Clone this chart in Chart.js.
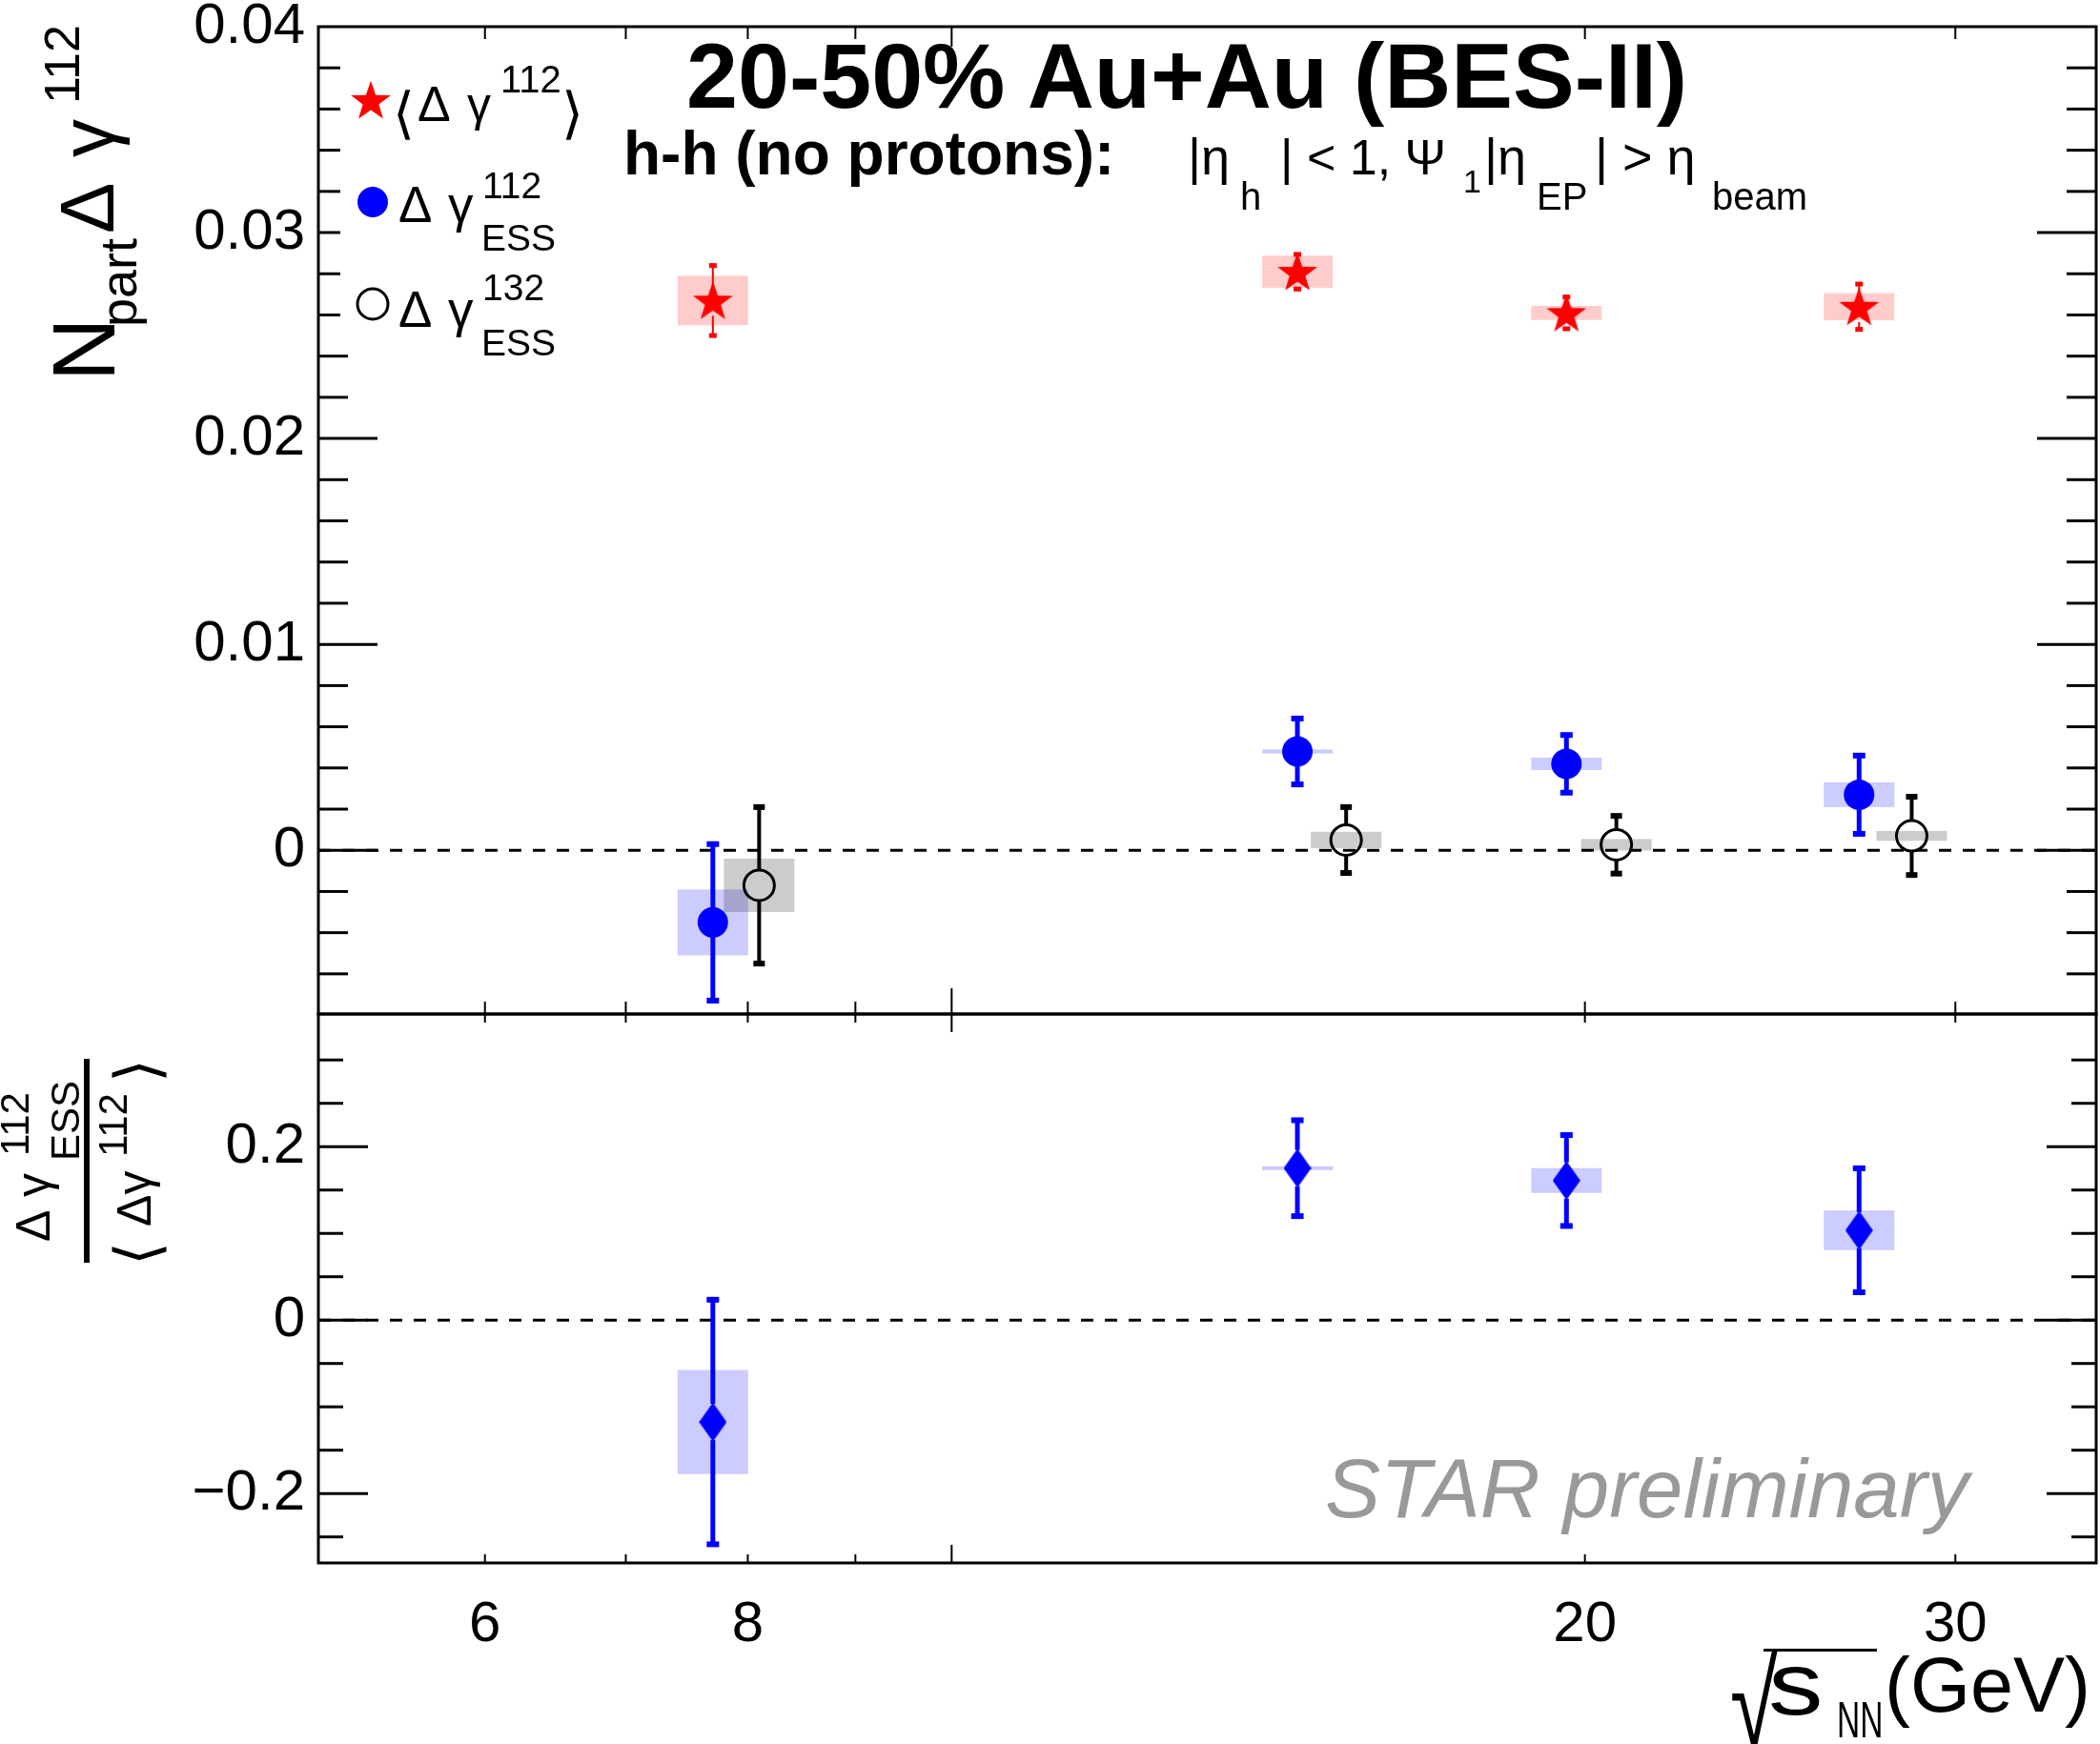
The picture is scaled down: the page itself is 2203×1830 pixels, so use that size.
<!DOCTYPE html>
<html>
<head>
<meta charset="utf-8">
<script src="https://cdn.jsdelivr.net/npm/chart.js@4.4.1/dist/chart.umd.min.js"></script>
<style>
  html, body { margin: 0; padding: 0; background: #fff; }
  #wrap { position: relative; width: 2203px; height: 1830px; overflow: hidden;
          font-family: "Liberation Sans", Arial, sans-serif; color: #000; }
  canvas { position: absolute; left: 0; top: 0; }
  .t { position: absolute; white-space: nowrap; transform-origin: 0 0; }
  .rot { position: absolute; left: 0; top: 0; transform-origin: 0 0; }
</style>
</head>
<body>
<div id="wrap">
  <canvas id="topPanel" width="2203" height="1830"></canvas>
  <canvas id="bottomPanel" width="2203" height="1830"></canvas>
  <div id="texts"></div>
</div>
<script>
// ---- data ----
const energy        = [7.7, 14.6, 19.6, 27];
const energyShifted = [8.1, 15.4, 20.7, 28.6];   // open circles are drawn slightly to the right

const gamma112      = [0.0267, 0.0281, 0.0261, 0.0264];
const gamma112Stat  = [0.0017, 0.00084, 0.00077, 0.0011];
const gamma112Sys   = [0.0012, 0.00078, 0.00034, 0.00066];

const ess112        = [-0.0035, 0.0048, 0.0042, 0.0027];
const ess112Stat    = [0.0038, 0.0016, 0.0014, 0.0019];
const ess112Sys     = [0.0016, 0.0001, 0.0003, 0.0006];

const ess132        = [-0.0017, 0.0005, 0.00027, 0.0007];
const ess132Stat    = [0.0038, 0.0016, 0.0014, 0.0019];
const ess132Sys     = [0.0013, 0.0004, 0.00028, 0.00024];

const ratio         = [-0.1175, 0.1752, 0.161, 0.1036];
const ratioStat     = [0.141, 0.0553, 0.0524, 0.0715];
const ratioSys      = [0.060, 0.0023, 0.0143, 0.0229];

// ---- axes ----
const xMin = 5, xMax = 35;
const xTickValues  = [6, 7, 8, 9, 10, 20, 30];
const xMajorValues = [10];
const xLabelValues = [6, 8, 20, 30];
const xLabelText   = ['6', '8', '20', '30'];

const yTopMin = -0.00795, yTopMax = 0.04;
const yTopMajor  = [0, 0.01, 0.02, 0.03, 0.04];
const yTopLabels = ['0', '0.01', '0.02', '0.03', '0.04'];
const yTopStep = 0.002;

const yBotMin = -0.28, yBotMax = 0.353;
const yBotMajor  = [-0.2, 0, 0.2];
const yBotLabels = ['\u22120.2', '0', '0.2'];
const yBotStep = 0.05;

// ---- styles ----
const FONT = 'Liberation Sans';
const BOX_HALF = 37;            // half width of systematic boxes, px
const RED = '#ff0000', BLUE = '#0000ff';

function starImage(r) {
  const c = document.createElement('canvas');
  c.width = c.height = Math.ceil(2 * r + 2);
  const g = c.getContext('2d');
  const cx = c.width / 2, cy = c.height / 2 + r * 0.08;
  g.beginPath();
  for (let k = 0; k < 10; k++) {
    const rr = k % 2 ? r * 0.4 : r;
    const a = -Math.PI / 2 + k * Math.PI / 5;
    g.lineTo(cx + rr * Math.cos(a), cy + rr * Math.sin(a));
  }
  g.closePath();
  g.fillStyle = RED;
  g.fill();
  return c;
}

function diamondImage(w, h) {
  const c = document.createElement('canvas');
  c.width = w; c.height = h;
  const g = c.getContext('2d');
  g.beginPath();
  g.moveTo(w / 2, 0); g.lineTo(w, h / 2); g.lineTo(w / 2, h); g.lineTo(0, h / 2);
  g.closePath();
  g.fillStyle = BLUE;
  g.fill();
  return c;
}

const starImg = starImage(22);
const diamondImg = diamondImage(29, 41);

function pts(xs, ys) { return xs.map((x, i) => ({ x: x, y: ys[i] })); }

function minorValues(min, max, step) {
  const out = [];
  for (let k = Math.ceil(min / step - 1e-9); k * step <= max + 1e-12; k++) out.push(k * step);
  return out;
}

function seg(ctx, x1, y1, x2, y2) {
  ctx.beginPath(); ctx.moveTo(x1, y1); ctx.lineTo(x2, y2); ctx.stroke();
}

// systematic boxes
function drawBoxes(chart, xs, ys, sys, color) {
  const { ctx, scales: { x, y } } = chart;
  ctx.save();
  ctx.fillStyle = color;
  xs.forEach((xv, i) => {
    const px = x.getPixelForValue(xv);
    const y1 = y.getPixelForValue(ys[i] + sys[i]);
    const y2 = y.getPixelForValue(ys[i] - sys[i]);
    ctx.fillRect(px - BOX_HALF, y1, 2 * BOX_HALF, Math.max(y2 - y1, 2));
  });
  ctx.restore();
}

// statistical error bars with a gap around the marker
function drawBars(chart, xs, ys, stat, st) {
  const { ctx, scales: { x, y } } = chart;
  ctx.save();
  ctx.strokeStyle = st.color;
  ctx.fillStyle = st.color;
  ctx.lineWidth = st.width;
  xs.forEach((xv, i) => {
    const px = x.getPixelForValue(xv);
    const pc = y.getPixelForValue(ys[i]);
    const pt = y.getPixelForValue(ys[i] + stat[i]);
    const pb = y.getPixelForValue(ys[i] - stat[i]);
    if (pc - st.gap > pt) seg(ctx, px, pt, px, pc - st.gap);
    if (pc + st.gap < pb) seg(ctx, px, pc + st.gap, px, pb);
    ctx.fillRect(px - st.capW / 2, pt - st.capH / 2, st.capW, st.capH);
    ctx.fillRect(px - st.capW / 2, pb - st.capH / 2, st.capW, st.capH);
  });
  ctx.restore();
}

function drawZero(chart) {
  const { ctx, chartArea: a, scales: { y } } = chart;
  const py = y.getPixelForValue(0);
  ctx.save();
  ctx.strokeStyle = '#000';
  ctx.lineWidth = 3;
  ctx.setLineDash([13, 12]);
  seg(ctx, a.left, py, a.right, py);
  ctx.restore();
}

function drawFrame(chart, t) {
  const { ctx, chartArea: a, scales: { x, y } } = chart;
  ctx.save();
  ctx.strokeStyle = '#000';
  ctx.lineWidth = 3;
  minorValues(t.yMin, t.yMax, t.yStep).forEach(v => {
    const py = y.getPixelForValue(v);
    if (py < a.top + 4 || py > a.bottom - 4) return;
    const major = t.yMajor.some(m => Math.abs(m - v) < 1e-9);
    const L = major ? t.yMajorLen : t.yMinorLen;
    seg(ctx, a.left, py, a.left + L, py);
    seg(ctx, a.right, py, a.right - L, py);
  });
  ctx.lineWidth = 2;
  xTickValues.forEach(v => {
    const px = x.getPixelForValue(v);
    const major = xMajorValues.includes(v);
    seg(ctx, px, a.top, px, a.top + (major ? t.xTopMajor : t.xTopMinor));
    seg(ctx, px, a.bottom, px, a.bottom - (major ? t.xBotMajor : t.xBotMinor));
  });
  ctx.lineWidth = 3;
  ctx.strokeRect(a.left, a.top, a.right - a.left, a.bottom - a.top);
  ctx.restore();
}

const topPlugin = {
  id: 'topPanelDecor',
  beforeDatasetsDraw(chart) {
    drawZero(chart);
    drawBoxes(chart, energy, gamma112, gamma112Sys, 'rgba(255,0,0,0.2)');
    drawBoxes(chart, energy, ess112, ess112Sys, 'rgba(0,0,255,0.2)');
    drawBoxes(chart, energyShifted, ess132, ess132Sys, 'rgba(0,0,0,0.2)');
    drawBars(chart, energy, gamma112, gamma112Stat, { color: RED, width: 2, gap: 16, capW: 8, capH: 5 });
    drawBars(chart, energy, ess112, ess112Stat, { color: BLUE, width: 5, gap: 15, capW: 13, capH: 6 });
    drawBars(chart, energyShifted, ess132, ess132Stat, { color: '#000', width: 4, gap: 16, capW: 12, capH: 6 });
  },
  afterDraw(chart) {
    drawFrame(chart, { yMin: yTopMin, yMax: yTopMax, yStep: yTopStep, yMajor: yTopMajor,
      yMajorLen: 62, yMinorLen: 31, xTopMajor: 21, xTopMinor: 13, xBotMajor: 27, xBotMinor: 13 });
    // legend box (white) and its markers
    const ctx = chart.ctx;
    ctx.save();
    ctx.fillStyle = '#fff';
    ctx.fillRect(357, 50, 283, 318);
    ctx.drawImage(starImg, 389 - starImg.width / 2, 105 - starImg.height / 2);
    ctx.fillStyle = BLUE;
    ctx.beginPath(); ctx.arc(391, 212, 16, 0, 2 * Math.PI); ctx.fill();
    ctx.strokeStyle = '#000'; ctx.lineWidth = 3;
    ctx.beginPath(); ctx.arc(391, 319, 16, 0, 2 * Math.PI); ctx.stroke();
    ctx.restore();
  }
};

const bottomPlugin = {
  id: 'bottomPanelDecor',
  beforeDatasetsDraw(chart) {
    drawZero(chart);
    drawBoxes(chart, energy, ratio, ratioSys, 'rgba(0,0,255,0.2)');
    drawBars(chart, energy, ratio, ratioStat, { color: BLUE, width: 5, gap: 19, capW: 13, capH: 6 });
  },
  afterDraw(chart) {
    drawFrame(chart, { yMin: yBotMin, yMax: yBotMax, yStep: yBotStep, yMajor: yBotMajor,
      yMajorLen: 52, yMinorLen: 26, xTopMajor: 19, xTopMinor: 9, xBotMajor: 19, xBotMinor: 9 });
  }
};

function yAxis(min, max, major, labels) {
  return {
    type: 'linear', min: min, max: max,
    grid: { display: false, drawTicks: false },
    border: { display: false },
    afterBuildTicks(s) { s.ticks = major.map(v => ({ value: v })); },
    afterFit(s) { s.width = 334; s.paddingTop = 0; s.paddingBottom = 0; },
    ticks: {
      autoSkip: false, padding: 14, color: '#000',
      font: { family: FONT, size: 60 },
      callback: (v, i) => labels[i]
    }
  };
}

Chart.defaults.animation = false;

new Chart(document.getElementById('topPanel'), {
  type: 'scatter',
  data: {
    datasets: [
      { data: pts(energy, gamma112), pointStyle: starImg, pointRadius: 22 },
      { data: pts(energy, ess112), pointStyle: 'circle', pointRadius: 16,
        backgroundColor: BLUE, borderColor: BLUE, borderWidth: 0 },
      { data: pts(energyShifted, ess132), pointStyle: 'circle', pointRadius: 16,
        backgroundColor: 'rgba(0,0,0,0)', borderColor: '#000', borderWidth: 3 }
    ]
  },
  options: {
    responsive: false,
    layout: { autoPadding: false, padding: { left: 0, right: 4, top: 28, bottom: 1830 - 1064 } },
    plugins: { legend: { display: false }, tooltip: { enabled: false } },
    elements: { point: { hoverRadius: 16 } },
    scales: {
      x: { type: 'logarithmic', min: xMin, max: xMax, display: false },
      y: yAxis(yTopMin, yTopMax, yTopMajor, yTopLabels)
    }
  },
  plugins: [topPlugin]
});

new Chart(document.getElementById('bottomPanel'), {
  type: 'scatter',
  data: {
    datasets: [
      { data: pts(energy, ratio), pointStyle: diamondImg, pointRadius: 20 }
    ]
  },
  options: {
    responsive: false,
    layout: { autoPadding: false, padding: { left: 0, right: 4, top: 1064, bottom: 0 } },
    plugins: { legend: { display: false }, tooltip: { enabled: false } },
    scales: {
      x: {
        type: 'logarithmic', min: xMin, max: xMax,
        grid: { display: false, drawTicks: false },
        border: { display: false },
        afterBuildTicks(s) { s.ticks = xLabelValues.map(v => ({ value: v })); },
        afterFit(s) { s.height = 190; s.paddingLeft = 0; s.paddingRight = 0; },
        ticks: {
          autoSkip: false, maxRotation: 0, minRotation: 0, padding: 29, color: '#000',
          font: { family: FONT, size: 60 },
          callback: (v, i) => xLabelText[i]
        }
      },
      y: yAxis(yBotMin, yBotMax, yBotMajor, yBotLabels)
    }
  },
  plugins: [bottomPlugin]
});

// ---- texts (HTML) ----
const ASC = 0.8465;   // baseline offset for line-height = font-size (Liberation Sans)
function put(parent, text, size, left, base, extra) {
  const s = document.createElement('span');
  s.className = 't';
  s.textContent = text;
  s.style.fontSize = size + 'px';
  s.style.lineHeight = size + 'px';
  s.style.left = left + 'px';
  s.style.top = (base - ASC * size) + 'px';
  if (extra) s.style.cssText += extra;
  parent.appendChild(s);
  return s;
}
const T = document.getElementById('texts');

put(T, '20-50% Au+Au (BES-II)', 97, 720, 113, 'font-weight:bold;');
put(T, 'h-h (no protons):', 64, 654, 183, 'font-weight:bold;');
put(T, '|\u03b7', 54, 1246, 183);
put(T, 'h', 40, 1301, 220);
put(T, '| < 1, \u03a8', 52, 1343, 183);
put(T, '1', 34, 1535, 202);
put(T, '|\u03b7', 54, 1557, 183);
put(T, 'EP', 40, 1612, 220);
put(T, '| > \u03b7', 54, 1673, 183);
put(T, 'beam', 40, 1796, 220);

// legend
put(T, '\u27e8', 59, 412, 140);
put(T, '\u0394', 52, 438, 127);
put(T, '\u03b3', 50, 490, 127);
put(T, '112', 40, 525, 97);
put(T, '\u27e9', 59, 589, 140);

put(T, '\u0394', 53, 418, 233);
put(T, '\u03b3', 53, 470, 233);
put(T, '112', 39, 506, 208);
put(T, 'ESS', 39, 505, 263);

put(T, '\u0394', 53, 418, 343);
put(T, '\u03b3', 53, 470, 343);
put(T, '132', 39, 506, 315);
put(T, 'ESS', 39, 505, 373);

put(T, 'STAR preliminary', 87, 1390, 1592, 'font-style:italic;color:#999999;');

// x axis title
put(T, '\u221a', 130, 1815, 1834, 'transform:scaleX(0.7);');
const bar = document.createElement('div');
bar.style.cssText = 'position:absolute;left:1850px;top:1730px;width:119px;height:3px;background:#000;';
T.appendChild(bar);
put(T, 's', 92, 1855, 1799, 'transform:scaleX(1.25);');
put(T, 'NN', 54, 1927, 1823, 'transform:scaleX(0.62);');
put(T, '(GeV)', 81, 1977, 1797);

// y axis title, top panel (rotated)
const r1 = document.createElement('div');
r1.className = 'rot';
r1.style.transform = 'translate(42px, 400px) rotate(-90deg)';
T.appendChild(r1);
put(r1, 'N', 92, 0, 78);
put(r1, 'part', 54, 57, 101);
put(r1, '\u0394', 80, 155, 78);
put(r1, '\u03b3', 80, 235, 78);
put(r1, '112', 52, 291, 41);

// y axis title, bottom panel (rotated fraction)
const r2 = document.createElement('div');
r2.className = 'rot';
r2.style.transform = 'translate(0px, 1330px) rotate(-90deg)';
T.appendChild(r2);
put(r2, '\u0394', 50, 27, 52);
put(r2, '\u03b3', 50, 74, 52);
put(r2, '112', 42, 117, 31);
put(r2, 'ESS', 42, 112, 84);
const fbar = document.createElement('div');
fbar.style.cssText = 'position:absolute;left:5px;top:88px;width:214px;height:6px;background:#000;';
r2.appendChild(fbar);
put(r2, '\u27e8', 64, 2, 166);
put(r2, '\u0394\u03b3', 50, 43, 158);
put(r2, '112', 42, 116, 134);
put(r2, '\u27e9', 64, 194, 166);
</script>
</body>
</html>
